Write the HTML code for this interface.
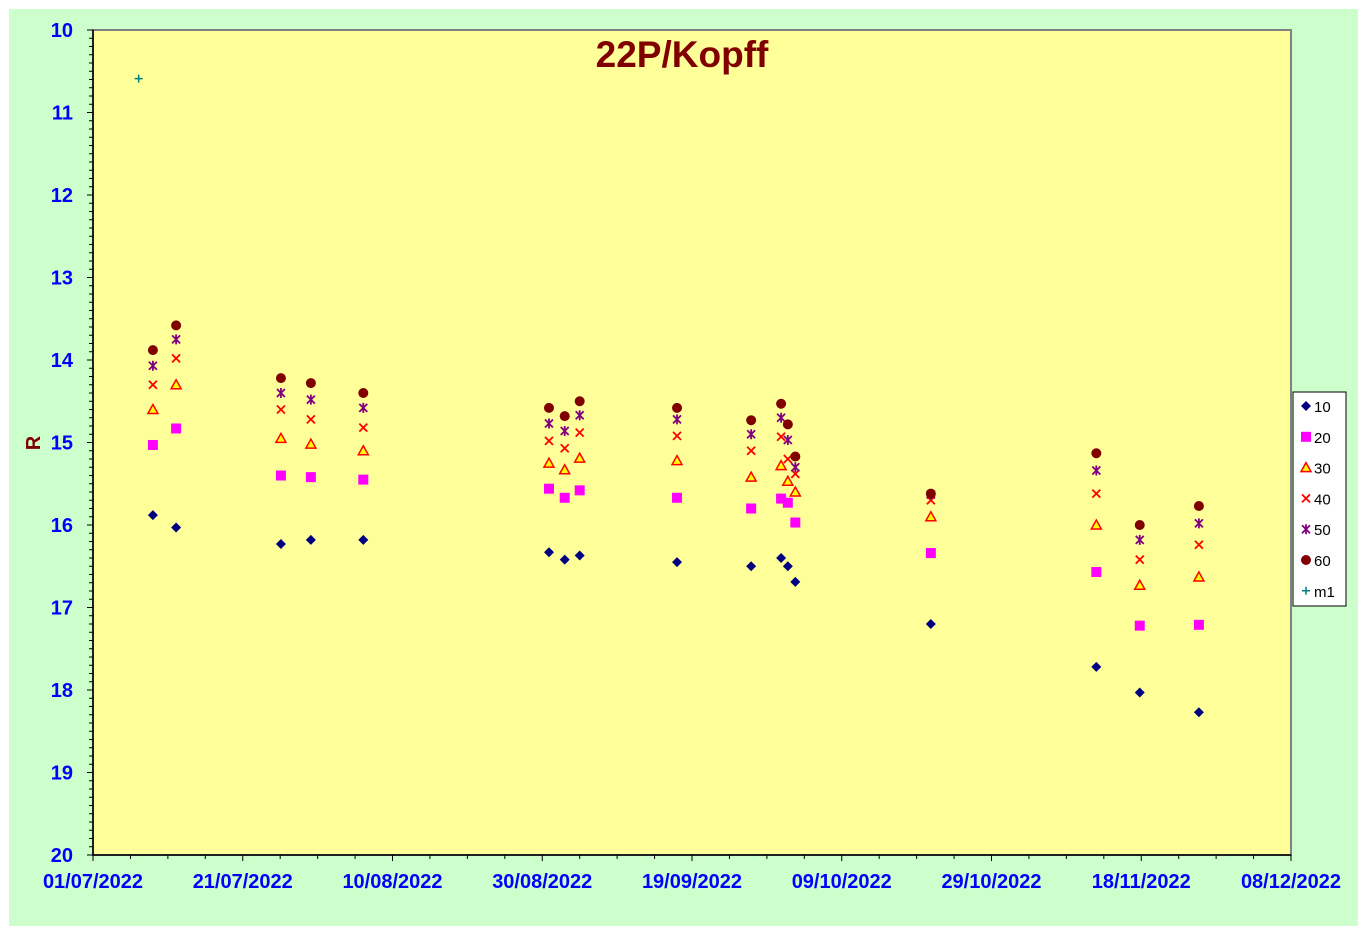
<!DOCTYPE html>
<html><head><meta charset="utf-8"><style>
body{margin:0;background:#fff;}
svg{display:block;font-family:"Liberation Sans",sans-serif;}
</style></head><body>
<svg id="chart" width="1366" height="934">
<rect x="9" y="9" width="1349" height="917" fill="#CCFFCC"/>
<rect x="93" y="30" width="1198" height="825" fill="#FFFF99" stroke="#808080" stroke-width="2"/>
<g id="axes"></g>
<g id="marks"></g>
<text x="682" y="67" text-anchor="middle" font-size="37" font-weight="bold" fill="#800000">22P/Kopff</text>
<text x="40" y="443" text-anchor="middle" font-size="20" font-weight="bold" fill="#800000" transform="rotate(-90 40 443)">R</text>
<g id="legend"></g>
</svg>
<script>
// days since 01/07/2022
const days = [8.0, 11.1, 25.1, 29.1, 36.1, 60.9, 63.0, 65.0, 78.0, 87.9, 91.9, 92.8, 93.8, 111.9, 134.0, 139.8, 147.7];
const r10 = [15.88, 16.03, 16.23, 16.18, 16.18, 16.33, 16.42, 16.37, 16.45, 16.50, 16.40, 16.50, 16.69, 17.20, 17.72, 18.03, 18.27];
const r20 = [15.03, 14.83, 15.40, 15.42, 15.45, 15.56, 15.67, 15.58, 15.67, 15.80, 15.68, 15.73, 15.97, 16.34, 16.57, 17.22, 17.21];
const r30 = [14.60, 14.30, 14.95, 15.02, 15.10, 15.25, 15.33, 15.19, 15.22, 15.42, 15.28, 15.47, 15.60, 15.90, 16.00, 16.73, 16.63];
const r40 = [14.30, 13.98, 14.60, 14.72, 14.82, 14.98, 15.07, 14.88, 14.92, 15.10, 14.93, 15.20, 15.38, 15.70, 15.62, 16.42, 16.24];
const r50 = [14.07, 13.75, 14.40, 14.48, 14.58, 14.77, 14.86, 14.67, 14.72, 14.90, 14.70, 14.97, 15.30, 15.63, 15.34, 16.18, 15.98];
const r60 = [13.88, 13.58, 14.22, 14.28, 14.40, 14.58, 14.68, 14.50, 14.58, 14.73, 14.53, 14.78, 15.17, 15.62, 15.13, 16.00, 15.77];
const m1Days = [6.1];
const m1Vals = [10.59];
const xTickLabels = ["01/07/2022","21/07/2022","10/08/2022","30/08/2022","19/09/2022","09/10/2022","29/10/2022","18/11/2022","08/12/2022"];
const yTickLabels = ["10","11","12","13","14","15","16","17","18","19","20"];
const legendLabels = ["10","20","30","40","50","60","m1"];

const NS="http://www.w3.org/2000/svg";
const X0=93,X1=1291,Y0=30,Y1=855,DMAX=160,RMIN=10,RMAX=20;
const xs=d=>X0+(d/DMAX)*(X1-X0);
const ys=r=>Y0+(r-RMIN)/(RMAX-RMIN)*(Y1-Y0);
function mk(tag,attrs,parent){const e=document.createElementNS(NS,tag);for(const k in attrs)e.setAttribute(k,attrs[k]);parent.appendChild(e);return e;}
const axes=document.getElementById('axes'),marks=document.getElementById('marks'),legend=document.getElementById('legend');
// axis lines
let al=mk('line',{x1:X0,y1:Y0,x2:X0,y2:Y1,stroke:'#000','stroke-width':1.5},axes);


al=mk('line',{x1:X0,y1:Y1,x2:X1,y2:Y1,stroke:'#000','stroke-width':1.5},axes);


// y ticks
for(let i=0;i<=100;i++){const r=RMIN+i*0.1;const y=ys(r);const major=i%10===0;
 const t=mk('line',{x1:X0-(major?6:4),y1:y,x2:X0,y2:y,stroke:'#000','stroke-width':1},axes);
 
 }
yTickLabels.forEach((s,i)=>{const t=mk('text',{x:73,y:ys(+s)+7,'text-anchor':'end','font-size':20,'font-weight':'bold',fill:'#0000FF'},axes);t.textContent=s;
 
 });
// x ticks
for(let d=0;d<=DMAX;d+=5){const x=xs(d);const major=d%20===0;
 const t=mk('line',{x1:x,y1:Y1,x2:x,y2:Y1+(major?6:4),stroke:'#000','stroke-width':1},axes);
 
 }
xTickLabels.forEach((s,i)=>{const t=mk('text',{x:xs(i*20),y:888,'text-anchor':'middle','font-size':20,'font-weight':'bold',fill:'#0000FF'},axes);t.textContent=s;
 
 });
// markers
function marker(type,x,y,p){let g=mk('g',{},p);
 if(type===0)mk('polygon',{points:`${x},${y-5} ${x+5},${y} ${x},${y+5} ${x-5},${y}`,fill:'#000080'},g);
 else if(type===1)mk('rect',{x:x-5,y:y-5,width:10,height:10,fill:'#FF00FF'},g);
 else if(type===2)mk('polygon',{points:`${x},${y-5} ${x+5},${y+4} ${x-5},${y+4}`,fill:'#FFFF00',stroke:'#FF0000','stroke-width':1.5},g);
 else if(type===3){mk('path',{d:`M${x-4},${y-4}L${x+4},${y+4}M${x+4},${y-4}L${x-4},${y+4}`,stroke:'#FF0000','stroke-width':1.8},g);}
 else if(type===4){mk('path',{d:`M${x-4},${y-4}L${x+4},${y+4}M${x+4},${y-4}L${x-4},${y+4}M${x},${y-5}L${x},${y+5}`,stroke:'#800080','stroke-width':1.8},g);}
 else if(type===5)mk('circle',{cx:x,cy:y,r:5,fill:'#800000'},g);
 else mk('path',{d:`M${x-4},${y}L${x+4},${y}M${x},${y-4}L${x},${y+4}`,stroke:'#008080','stroke-width':1.5},g);
 return g;}
const series=[r10,r20,r30,r40,r50,r60];
series.forEach((arr,si)=>{arr.forEach((v,i)=>{const g=marker(si,xs(days[i]),ys(v),marks);
 
 });});
m1Vals.forEach((v,i)=>{const g=marker(6,xs(m1Days[i]),ys(v),marks);
 
 });
// legend
const lb=mk('rect',{x:1293,y:392,width:53,height:214,fill:'#fff',stroke:'#000','stroke-width':1},legend);


legendLabels.forEach((s,i)=>{const y=406+i*30.8;const g=mk('g',{},legend);
 
 
 marker(i,1306,y,g);
 const t=mk('text',{x:1314,y:y+6,'font-size':15,fill:'#000'},g);t.textContent=s;});
</script>
</body></html>
